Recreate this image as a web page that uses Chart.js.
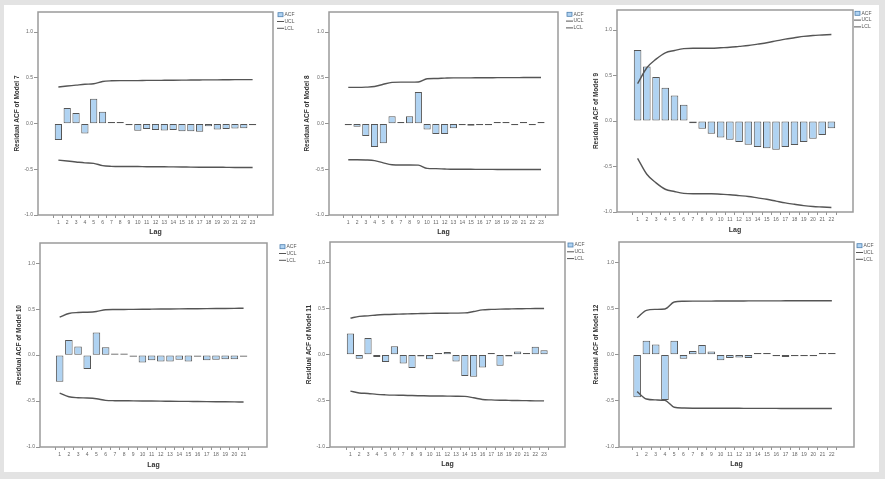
<!DOCTYPE html>
<html>
<head>
<meta charset="utf-8">
<script src="https://cdn.jsdelivr.net/npm/chart.js@4/dist/chart.umd.min.js"></script>
<style>
  html, body { margin: 0; padding: 0; background: #e3e3e3; }
  body { width: 885px; height: 479px; position: relative; overflow: hidden; }
  #sheet { position: absolute; left: 4px; top: 5px; width: 875px; height: 467px; background: #fff; }
  canvas { position: absolute; }
</style>
</head>
<body>
<div id="sheet"></div>
<canvas id="m7"></canvas>
<canvas id="m8"></canvas>
<canvas id="m9"></canvas>
<canvas id="m10"></canvas>
<canvas id="m11"></canvas>
<canvas id="m12"></canvas>
<script>
/**
 * Residual ACF plots, models 7 - 12
 */

// Lags
const lags21 = [1, 2, 3, 4, 5, 6, 7, 8, 9, 10, 11, 12, 13, 14, 15, 16, 17, 18, 19, 20, 21];
const lags22 = [1, 2, 3, 4, 5, 6, 7, 8, 9, 10, 11, 12, 13, 14, 15, 16, 17, 18, 19, 20, 21, 22];
const lags23 = [1, 2, 3, 4, 5, 6, 7, 8, 9, 10, 11, 12, 13, 14, 15, 16, 17, 18, 19, 20, 21, 22, 23];

// Y ticks
const yTickValues = [-1.0, -0.5, 0.0, 0.5, 1.0];

// Model 7
const acf7 = [-0.18, 0.17, 0.115, -0.11, 0.27, 0.13, 0.005, 0.005, -0.015, -0.08, -0.06, -0.07, -0.075, -0.07, -0.085, -0.085, -0.09, -0.03, -0.065, -0.06, -0.055, -0.05, -0.01];
const ucl7 = [0.40, 0.41, 0.42, 0.43, 0.435, 0.46, 0.468, 0.47, 0.47, 0.47, 0.472, 0.472, 0.473, 0.474, 0.475, 0.476, 0.477, 0.478, 0.478, 0.479, 0.48, 0.48, 0.48];
const lcl7 = [-0.40, -0.41, -0.42, -0.43, -0.435, -0.46, -0.468, -0.47, -0.47, -0.47, -0.472, -0.472, -0.473, -0.474, -0.475, -0.476, -0.477, -0.478, -0.478, -0.479, -0.48, -0.48, -0.48];

// Model 8
const acf8 = [-0.005, -0.035, -0.135, -0.255, -0.215, 0.08, 0.015, 0.08, 0.345, -0.065, -0.115, -0.115, -0.05, -0.005, -0.025, -0.01, -0.005, 0.01, 0.003, -0.003, 0.002, -0.002, 0.002];
const ucl8 = [0.396, 0.396, 0.398, 0.405, 0.43, 0.45, 0.453, 0.453, 0.455, 0.49, 0.493, 0.497, 0.5, 0.5, 0.5, 0.501, 0.501, 0.502, 0.502, 0.502, 0.503, 0.503, 0.503];
const lcl8 = [-0.396, -0.396, -0.398, -0.405, -0.43, -0.45, -0.453, -0.453, -0.455, -0.49, -0.493, -0.497, -0.5, -0.5, -0.5, -0.501, -0.501, -0.502, -0.502, -0.502, -0.503, -0.503, -0.503];

// Model 9
const acf9 = [0.78, 0.60, 0.485, 0.365, 0.28, 0.18, -0.025, -0.085, -0.14, -0.18, -0.205, -0.23, -0.26, -0.285, -0.30, -0.315, -0.285, -0.265, -0.23, -0.195, -0.155, -0.08];
const ucl9 = [0.41, 0.585, 0.68, 0.75, 0.775, 0.795, 0.80, 0.80, 0.80, 0.805, 0.81, 0.82, 0.83, 0.845, 0.86, 0.88, 0.90, 0.915, 0.93, 0.94, 0.945, 0.95];
const lcl9 = [-0.41, -0.585, -0.68, -0.75, -0.775, -0.795, -0.80, -0.80, -0.80, -0.805, -0.81, -0.82, -0.83, -0.845, -0.86, -0.88, -0.90, -0.915, -0.93, -0.94, -0.945, -0.95];

// Model 10
const acf10 = [-0.29, 0.165, 0.095, -0.15, 0.245, 0.085, 0.005, 0.005, -0.015, -0.08, -0.055, -0.07, -0.07, -0.05, -0.07, -0.01, -0.055, -0.05, -0.045, -0.045, -0.008];
const ucl10 = [0.413, 0.453, 0.464, 0.467, 0.475, 0.493, 0.496, 0.497, 0.498, 0.499, 0.5, 0.501, 0.502, 0.503, 0.504, 0.505, 0.506, 0.507, 0.508, 0.509, 0.51];
const lcl10 = [-0.413, -0.453, -0.464, -0.467, -0.475, -0.493, -0.496, -0.497, -0.498, -0.499, -0.5, -0.501, -0.502, -0.503, -0.504, -0.505, -0.506, -0.507, -0.508, -0.509, -0.51];

// Model 11
const acf11 = [0.23, -0.045, 0.18, -0.025, -0.08, 0.09, -0.095, -0.145, -0.02, -0.05, 0.003, 0.03, -0.075, -0.23, -0.24, -0.14, 0.007, -0.12, -0.02, 0.035, 0.004, 0.085, 0.047];
const ucl11 = [0.395, 0.415, 0.42, 0.43, 0.435, 0.438, 0.44, 0.443, 0.445, 0.447, 0.448, 0.449, 0.45, 0.452, 0.467, 0.485, 0.49, 0.493, 0.495, 0.497, 0.498, 0.5, 0.5];
const lcl11 = [-0.395, -0.415, -0.42, -0.43, -0.435, -0.438, -0.44, -0.443, -0.445, -0.447, -0.448, -0.449, -0.45, -0.452, -0.467, -0.485, -0.49, -0.493, -0.495, -0.497, -0.498, -0.5, -0.5];

// Model 12
const acf12 = [-0.46, 0.15, 0.11, -0.49, 0.15, -0.045, 0.04, 0.105, 0.035, -0.06, -0.035, -0.03, -0.035, 0.012, 0.007, -0.003, -0.025, -0.003, -0.003, -0.003, 0.01, 0.003];
const ucl12 = [0.40, 0.48, 0.49, 0.495, 0.57, 0.578, 0.58, 0.58, 0.58, 0.581, 0.581, 0.581, 0.582, 0.582, 0.582, 0.582, 0.583, 0.583, 0.583, 0.583, 0.583, 0.583];
const lcl12 = [-0.40, -0.48, -0.49, -0.495, -0.57, -0.578, -0.58, -0.58, -0.58, -0.581, -0.581, -0.581, -0.582, -0.582, -0.582, -0.582, -0.583, -0.583, -0.583, -0.583, -0.583, -0.583];

const BAR_FILL = '#b0d3f2';
const BAR_EDGE = '#555555';
const LINE_COLOR = '#555555';
const FRAME_COLOR = '#9a9a9a';
const FONT = 'Arial, "Liberation Sans", sans-serif';

// Panel placement (canvas box, plot frame, title offsets, legend spot)
const panels = [
    { id: 'm7',  name: 'Residual ACF of Model 7',  lags: lags23, acf: acf7,  ucl: ucl7,  lcl: lcl7,
      box: [4, 5, 294, 233],    frame: [38, 12, 273, 215],   xRange: [-0.73, 24.73], yPad: 9.1, xPad: 1.8, legend: [278, 14.7] },
    { id: 'm8',  name: 'Residual ACF of Model 8',  lags: lags23, acf: acf8,  ucl: ucl8,  lcl: lcl8,
      box: [298, 5, 292, 233],  frame: [329, 12, 558, 215],  xRange: [-0.63, 24.37], yPad: 5.1, xPad: 1.5, legend: [567, 14.3] },
    { id: 'm9',  name: 'Residual ACF of Model 9',  lags: lags22, acf: acf9,  ucl: ucl9,  lcl: lcl9,
      box: [590, 5, 289, 233],  frame: [617, 10, 853, 212],  xRange: [-0.65, 23.76], yPad: 2.6, xPad: 3.8, legend: [855, 13.3] },
    { id: 'm10', name: 'Residual ACF of Model 10', lags: lags21, acf: acf10, ucl: ucl10, lcl: lcl10,
      box: [4, 238, 294, 234],  frame: [40, 243, 267, 447],  xRange: [-0.55, 22.96], yPad: 11.1, xPad: 2.8, legend: [280, 246.7] },
    { id: 'm11', name: 'Residual ACF of Model 11', lags: lags23, acf: acf11, ucl: ucl11, lcl: lcl11,
      box: [298, 238, 292, 234], frame: [330, 242, 565, 447], xRange: [-0.74, 24.8],  yPad: 7.1, xPad: 3.5, legend: [568, 245] },
    { id: 'm12', name: 'Residual ACF of Model 12', lags: lags22, acf: acf12, ucl: ucl12, lcl: lcl12,
      box: [590, 238, 289, 234], frame: [619, 242, 854, 447], xRange: [-0.38, 23.81], yPad: 2.6, xPad: 3.5, legend: [857, 245.7] }
];

/**
 * Frame round the plot area plus the small ACF / UCL / LCL key
 */
function framePlugin(p) {
    return {
        id: 'frame_' + p.id,
        afterDraw(chart) {
            const ctx = chart.ctx;
            const a = chart.chartArea;
            ctx.save();
            ctx.strokeStyle = FRAME_COLOR;
            ctx.lineWidth = 1.5;
            ctx.strokeRect(a.left, a.top, a.right - a.left, a.bottom - a.top);

            // key
            const lx = p.legend[0] - p.box[0];
            const ly = p.legend[1] - p.box[1];
            ctx.font = '5px ' + FONT;
            ctx.textBaseline = 'middle';

            ctx.fillStyle = BAR_FILL;
            ctx.fillRect(lx, ly - 2, 5, 4);
            ctx.strokeStyle = '#4f7fae';
            ctx.lineWidth = 0.8;
            ctx.strokeRect(lx, ly - 2, 5, 4);

            ctx.strokeStyle = LINE_COLOR;
            ctx.lineWidth = 1;
            [6.8, 13.6].forEach(dy => {
                ctx.beginPath();
                ctx.moveTo(lx - 1, ly + dy);
                ctx.lineTo(lx + 6, ly + dy);
                ctx.stroke();
            });

            ctx.fillStyle = '#555';
            ctx.fillText('ACF', lx + 6.5, ly);
            ctx.fillText('UCL', lx + 6.5, ly + 6.8);
            ctx.fillText('LCL', lx + 6.5, ly + 13.6);
            ctx.restore();
        }
    };
}

function buildPanel(p) {
    const canvas = document.getElementById(p.id);
    const [bx, by, bw, bh] = p.box;
    const [fl, ft, fr, fb] = p.frame;
    canvas.width = bw;
    canvas.height = bh;
    canvas.style.left = bx + 'px';
    canvas.style.top = by + 'px';
    canvas.style.width = bw + 'px';
    canvas.style.height = bh + 'px';

    new Chart(canvas, {
        type: 'bar',
        data: {
            labels: p.lags,
            datasets: [
                {
                    type: 'line',
                    label: 'UCL',
                    data: p.ucl,
                    borderColor: LINE_COLOR,
                    borderWidth: 1.4,
                    pointRadius: 0,
                    cubicInterpolationMode: 'monotone',
                    fill: false,
                    order: 0
                },
                {
                    type: 'line',
                    label: 'LCL',
                    data: p.lcl,
                    borderColor: LINE_COLOR,
                    borderWidth: 1.4,
                    pointRadius: 0,
                    cubicInterpolationMode: 'monotone',
                    fill: false,
                    order: 0
                },
                {
                    label: 'ACF',
                    data: p.acf,
                    backgroundColor: BAR_FILL,
                    borderColor: BAR_EDGE,
                    borderWidth: 1,
                    borderSkipped: false,
                    barPercentage: 0.82,
                    categoryPercentage: 1,
                    minBarLength: 1.6,
                    order: 1
                }
            ]
        },
        options: {
            responsive: false,
            animation: false,
            devicePixelRatio: 1,
            layout: {
                padding: { left: 0, top: ft - by, right: bx + bw - fr, bottom: 0 }
            },
            plugins: {
                legend: { display: false },
                tooltip: { enabled: false }
            },
            scales: {
                x: {
                    type: 'linear',
                    min: p.xRange[0],
                    max: p.xRange[1],
                    afterBuildTicks: scale => {
                        scale.ticks = p.lags.map(v => ({ value: v }));
                    },
                    afterFit: scale => {
                        scale.height = by + bh - fb;
                    },
                    border: { display: false },
                    grid: { drawOnChartArea: false, drawTicks: true, tickLength: 3, color: '#777', lineWidth: 0.8 },
                    ticks: {
                        autoSkip: false,
                        maxRotation: 0,
                        padding: 2,
                        color: '#666',
                        font: { family: FONT, size: 5 },
                        callback: v => String(v)
                    },
                    title: {
                        display: true,
                        text: 'Lag',
                        color: '#333',
                        font: { family: FONT, size: 7, weight: 'bold' },
                        padding: { top: 0, bottom: p.xPad }
                    }
                },
                y: {
                    min: -1.0,
                    max: 1.22,
                    afterBuildTicks: scale => {
                        scale.ticks = yTickValues.map(v => ({ value: v }));
                    },
                    afterFit: scale => {
                        scale.width = fl - bx;
                    },
                    border: { display: false },
                    grid: { drawOnChartArea: false, drawTicks: true, tickLength: 4, color: '#777', lineWidth: 0.8 },
                    ticks: {
                        padding: 1,
                        color: '#666',
                        font: { family: FONT, size: 5 },
                        callback: v => Number(v).toFixed(1)
                    },
                    title: {
                        display: true,
                        text: p.name,
                        color: '#333',
                        font: { family: FONT, size: 6.5, weight: 'bold' },
                        padding: { top: p.yPad, bottom: 0 }
                    }
                }
            }
        },
        plugins: [framePlugin(p)]
    });
}

panels.forEach(buildPanel);
</script>
</body>
</html>
